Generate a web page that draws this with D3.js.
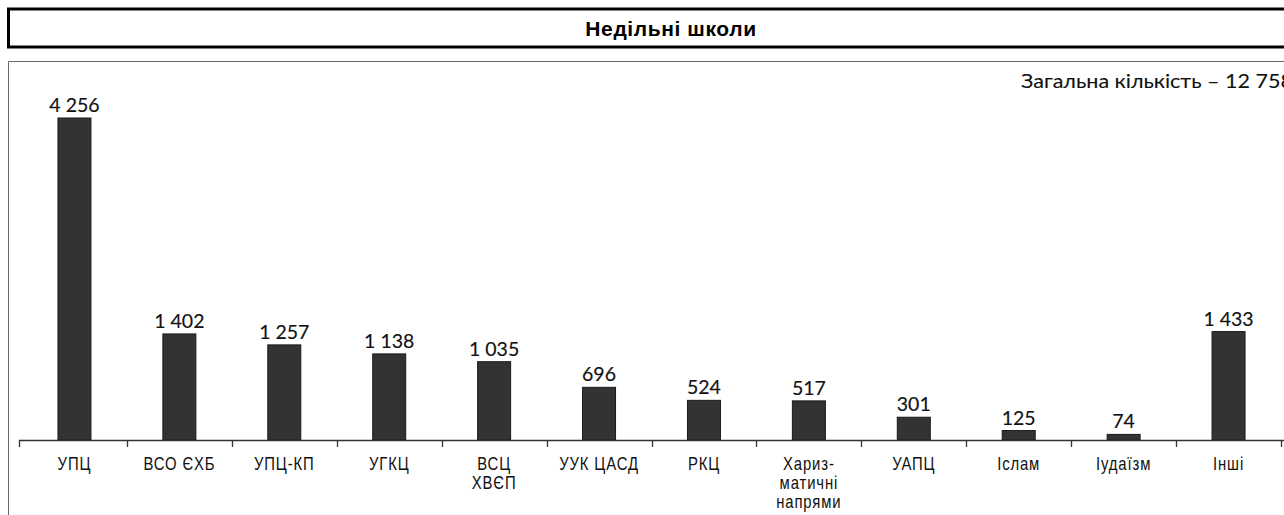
<!DOCTYPE html>
<html><head><meta charset="utf-8">
<script src="https://cdn.jsdelivr.net/npm/d3@7"></script>
<style>
html,body{margin:0;padding:0;background:#fff;overflow:hidden}
svg{display:block}
.cat{font-family:"Liberation Sans",Arial,sans-serif;font-size:17.5px;letter-spacing:1px;fill:#111}
.val{font-family:"Lato","Noto Sans",sans-serif;font-size:19.5px;fill:#111;stroke:#111;stroke-width:0.15px}
</style></head>
<body>
<script>
const title = "Недільні школи";
const totalLabel = "Загальна кількість – 12 758";
const categories = ["УПЦ","ВСО ЄХБ","УПЦ-КП","УГКЦ","ВСЦ ХВЄП","УУК ЦАСД","РКЦ","Хариз-матичні напрями","УАПЦ","Іслам","Іудаїзм","Інші"];
const categoryLines = [["УПЦ"],["ВСО ЄХБ"],["УПЦ-КП"],["УГКЦ"],["ВСЦ","ХВЄП"],["УУК ЦАСД"],["РКЦ"],["Хариз-","матичні","напрями"],["УАПЦ"],["Іслам"],["Іудаїзм"],["Інші"]];
const values = [4256,1402,1257,1138,1035,696,524,517,301,125,74,1433];

const W = 1284, H = 515;
const svg = d3.select("body").append("svg").attr("width", W).attr("height", H);

// Title box
svg.append("rect").attr("x", 8.5).attr("y", 9).attr("width", 1320).attr("height", 38)
  .attr("fill", "none").attr("stroke", "#000").attr("stroke-width", 3);
svg.append("text").attr("x", 671).attr("y", 36).attr("text-anchor", "middle")
  .style("font-family", "Arial, 'Liberation Sans', sans-serif").style("font-weight", "bold")
  .style("font-size", "21px").style("letter-spacing", "0.6px").text(title);

// Plot frame
svg.append("path").attr("d", "M8.5,520 V61.5 H1300").attr("fill", "none")
  .attr("stroke", "#666").attr("stroke-width", 1);

// Total label
svg.append("text").attr("class", "val").attr("x", 1021).attr("y", 88)
  .style("font-size", "19px").style("stroke-width", "0.1px")
  .attr("textLength", 272).attr("lengthAdjust", "spacingAndGlyphs").text(totalLabel);

const baseY = 440;
const x = d3.scaleBand().domain(categories).range([22, 1281]).paddingInner(0).paddingOuter(0);
const y = d3.scaleLinear().domain([0, 4256]).range([baseY, 118]);
const fmt = d3.formatLocale({decimal: ",", thousands: " ", grouping: [3], currency: ["", ""]}).format(",d");

const barW = 33;
const data = categories.map((c, i) => ({c, v: values[i], lines: categoryLines[i]}));

svg.selectAll("rect.bar").data(data).join("rect").attr("class", "bar")
  .attr("x", d => x(d.c) + x.bandwidth() / 2 - barW / 2)
  .attr("y", d => y(d.v))
  .attr("width", barW)
  .attr("height", d => baseY - y(d.v))
  .attr("fill", "#333").attr("stroke", "#1a1a1a").attr("stroke-width", 1);

svg.selectAll("text.bv").data(data).join("text").attr("class", "val bv")
  .attr("x", d => x(d.c) + x.bandwidth() / 2)
  .attr("y", d => y(d.v) - 6)
  .attr("text-anchor", "middle")
  .text(d => fmt(d.v));

// Axis
const axisG = svg.append("g");
axisG.append("line").attr("x1", 19).attr("x2", 1284).attr("y1", baseY + 0.5).attr("y2", baseY + 0.5)
  .attr("stroke", "#333").attr("stroke-width", 1.3);
const tickXs = categories.map(c => x(c)).concat([x.range()[1]]);
tickXs[0] = 19;
axisG.selectAll("line.tick").data(tickXs).join("line").attr("class", "tick")
  .attr("x1", d => Math.round(d) + 0.5).attr("x2", d => Math.round(d) + 0.5)
  .attr("y1", baseY).attr("y2", baseY + 7).attr("stroke", "#333").attr("stroke-width", 1.3);

const catG = svg.selectAll("text.cat").data(data).join("text").attr("class", "cat")
  .attr("text-anchor", "middle")
  .attr("transform", d => `translate(${x(d.c) + x.bandwidth() / 2},470) scale(0.85,1)`);
catG.selectAll("tspan").data(d => d.lines)
  .join("tspan").attr("x", 0).attr("dy", (t, i) => i === 0 ? 0 : 19).text(t => t);
</script>
</body></html>
